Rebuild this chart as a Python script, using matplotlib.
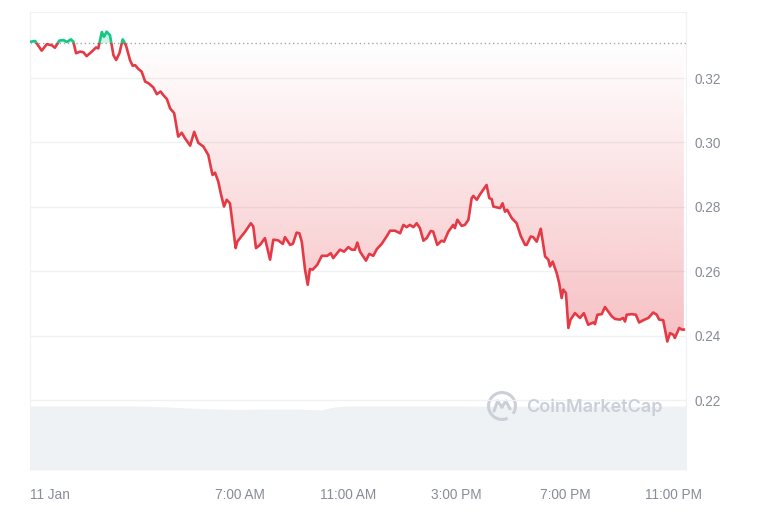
import numpy as np
import matplotlib
matplotlib.use('Agg')
import matplotlib.pyplot as plt
from matplotlib.patches import Rectangle, Arc
from matplotlib.path import Path
from matplotlib.colors import to_rgb

# hours since 11 Jan 00:00, price in USD
hours = [-0.70, -0.55, -0.31, -0.12, 0.06, 0.18, 0.34, 0.49, 0.62, 0.77,
         0.86, 0.96, 1.11, 1.23, 1.35, 1.54, 1.70, 1.78, 1.91, 1.99,
         2.09, 2.21, 2.34, 2.44, 2.56, 2.68, 2.80, 2.95, 3.05, 3.14,
         3.26, 3.38, 3.51, 3.63, 3.81, 3.94, 4.08, 4.18, 4.31, 4.43,
         4.58, 4.73, 4.86, 4.98, 5.17, 5.32, 5.47, 5.66, 5.84, 5.97,
         6.00, 6.09, 6.21, 6.30, 6.42, 6.52, 6.64, 6.85, 6.91, 7.20,
         7.41, 7.50, 7.60, 7.75, 7.93, 8.12, 8.24, 8.42, 8.59, 8.67,
         8.86, 8.96, 9.10, 9.20, 9.29, 9.41, 9.51, 9.59, 9.69, 9.86,
         10.03, 10.23, 10.36, 10.45, 10.70, 10.85, 11.01, 11.13, 11.25, 11.34,
         11.44, 11.56, 11.66, 11.78, 11.93, 12.06, 12.24, 12.42, 12.55, 12.73,
         12.92, 13.04, 13.16, 13.28, 13.41, 13.53, 13.65, 13.78, 13.90, 14.05,
         14.14, 14.29, 14.45, 14.54, 14.70, 14.88, 14.94, 15.03, 15.19, 15.31,
         15.44, 15.56, 15.62, 15.75, 15.87, 16.11, 16.21, 16.30, 16.36, 16.61,
         16.70, 16.79, 16.87, 17.04, 17.22, 17.37, 17.53, 17.59, 17.74, 17.83,
         17.96, 18.11, 18.27, 18.39, 18.45, 18.55, 18.70, 18.79, 18.88, 18.94,
         19.04, 19.13, 19.21, 19.37, 19.56, 19.70, 19.86, 20.05, 20.11, 20.20,
         20.36, 20.48, 20.60, 20.73, 20.85, 21.03, 21.15, 21.22, 21.28, 21.46,
         21.62, 21.74, 21.89, 22.08, 22.26, 22.39, 22.48, 22.63, 22.78, 22.88,
         23.00, 23.06, 23.22, 23.31, 23.39]
price = [0.3313, 0.3315, 0.3285, 0.3305, 0.3302, 0.3294, 0.3316, 0.3318, 0.3312, 0.3320,
         0.3313, 0.3277, 0.3282, 0.3280, 0.3268, 0.3282, 0.3295, 0.3292, 0.3343, 0.3328,
         0.3344, 0.3333, 0.3271, 0.3256, 0.3277, 0.3320, 0.3302, 0.3256, 0.3238, 0.3240,
         0.3228, 0.3220, 0.3189, 0.3184, 0.3171, 0.3150, 0.3158, 0.3147, 0.3135, 0.3106,
         0.3091, 0.3018, 0.3030, 0.3013, 0.2990, 0.3033, 0.2999, 0.2987, 0.2961, 0.2909,
         0.2899, 0.2906, 0.2878, 0.2842, 0.2801, 0.2822, 0.2811, 0.2672, 0.2692, 0.2723,
         0.2749, 0.2739, 0.2672, 0.2682, 0.2703, 0.2636, 0.2698, 0.2696, 0.2685, 0.2706,
         0.2682, 0.2685, 0.2720, 0.2718, 0.2692, 0.2605, 0.2558, 0.2607, 0.2605, 0.2620,
         0.2648, 0.2648, 0.2656, 0.2641, 0.2667, 0.2661, 0.2675, 0.2667, 0.2667, 0.2689,
         0.2661, 0.2646, 0.2633, 0.2654, 0.2648, 0.2669, 0.2685, 0.2708, 0.2726, 0.2726,
         0.2718, 0.2744, 0.2737, 0.2744, 0.2737, 0.2749, 0.2734, 0.2695, 0.2703, 0.2725,
         0.2723, 0.2682, 0.2695, 0.2692, 0.2723, 0.2744, 0.2734, 0.2760, 0.2741, 0.2744,
         0.2760, 0.2827, 0.2834, 0.2822, 0.2839, 0.2868, 0.2827, 0.2824, 0.2801, 0.2796,
         0.2811, 0.2785, 0.2791, 0.2765, 0.2749, 0.2710, 0.2682, 0.2682, 0.2708, 0.2706,
         0.2692, 0.2732, 0.2646, 0.2636, 0.2615, 0.2630, 0.2594, 0.2563, 0.2517, 0.2543,
         0.2532, 0.2424, 0.2450, 0.2470, 0.2455, 0.2470, 0.2434, 0.2441, 0.2436, 0.2465,
         0.2467, 0.2489, 0.2475, 0.2460, 0.2452, 0.2450, 0.2455, 0.2444, 0.2465, 0.2467,
         0.2465, 0.2441, 0.2448, 0.2455, 0.2472, 0.2465, 0.2450, 0.2448, 0.2382, 0.2408,
         0.2403, 0.2393, 0.2424, 0.2419, 0.2419]
open_price = 0.3309

vol_hours = [-0.74, 1, 3, 4.3, 5, 6, 7, 8, 9, 10, 10.5, 11, 13, 15, 17, 19, 21, 23.47]
volume = [6.4, 6.4, 6.4, 6.3, 6.2, 6.1, 6.05, 6.1, 6.1, 6.0, 6.3, 6.4, 6.4, 6.4, 6.35, 6.4, 6.35, 6.4]

x_ticks = [0, 7, 11, 15, 19, 23]
x_labels = ['11 Jan', '7:00 AM', '11:00 AM', '3:00 PM', '7:00 PM', '11:00 PM']
y_ticks = [0.22, 0.24, 0.26, 0.28, 0.30, 0.32]

RED = '#e53a45'
GREEN = '#16c784'
GREY = '#878c98'
MARK = '#cbcfd8'
plt.rcParams['font.family'] = ['Liberation Sans', 'DejaVu Sans']

x0, x1 = -0.74, 23.47
y0, y1 = 0.1983, 0.3405
hours = np.array(hours)
price = np.array(price)

fig = plt.figure(figsize=(7.68, 5.12), dpi=100)
ax = fig.add_axes([30 / 768, 42 / 512, 656 / 768, 458 / 512])
ax_v = ax.twinx()

# volume band at the bottom
ax_v.fill_between(vol_hours, volume, color='#eff2f5', lw=0)
ax_v.set_ylim(0, max(volume) / 0.14)
ax_v.set_yticks([])
for s in ax_v.spines.values():
    s.set_visible(False)

ax.set_zorder(ax_v.get_zorder() + 1)
ax.patch.set_visible(False)
ax.set_xlim(x0, x1)
ax.set_ylim(y0, y1)

# red gradient fill below open
below = ax.fill_between(hours, price, open_price, where=price <= open_price,
                        interpolate=True, color='none', lw=0)
rgba = np.zeros((256, 1, 4))
rgba[..., :3] = to_rgb(RED)
rgba[..., 3] = np.linspace(0.32, 0.0, 256).reshape(-1, 1)
im = ax.imshow(rgba, extent=(x0, x1, price.min(), open_price), origin='lower',
               aspect='auto', zorder=1)
im.set_clip_path(Path.make_compound_path(*below.get_paths()), transform=ax.transData)

ax.fill_between(hours, price, open_price, where=price >= open_price,
                interpolate=True, color=GREEN, alpha=0.2, lw=0, zorder=1)

ax.axhline(open_price, color='#a0a6b2', ls=(0, (1, 2)), lw=1, zorder=2)

red_line, = ax.plot(hours, price, color=RED, lw=1.9, zorder=3, solid_joinstyle='round')
red_line.set_clip_path(Rectangle((x0, y0), x1 - x0, open_price - y0, transform=ax.transData))
green_line, = ax.plot(hours, price, color=GREEN, lw=1.9, zorder=3, solid_joinstyle='round')
green_line.set_clip_path(Rectangle((x0, open_price), x1 - x0, y1 - open_price, transform=ax.transData))

ax.set_yticks(y_ticks)
ax.set_yticklabels(['%.2f' % v for v in y_ticks])
ax.yaxis.tick_right()
ax.set_xticks(x_ticks)
ax.set_xticklabels(x_labels)
ax.tick_params(axis='y', length=0, pad=6, labelcolor=GREY, labelsize=9.8)
ax.tick_params(axis='x', length=0, pad=13, labelcolor=GREY, labelsize=9.8)
ax.grid(axis='y', color='#eff1f4', lw=1, zorder=0)
ax.set_axisbelow(True)
for side in ['top', 'left', 'right']:
    ax.spines[side].set_color('#eff1f4')
ax.spines['bottom'].set_visible(False)

# watermark
fig.text(526 / 768, 1 - 407 / 512, 'CoinMarketCap', ha='left', va='center',
         fontsize=13, fontweight='semibold', color=MARK, family=['Inter', 'DejaVu Sans'])
lax = fig.add_axes([(502 - 16) / 768, (512 - 406 - 16) / 512, 32 / 768, 32 / 512])
lax.set_xlim(-1.1, 1.1)
lax.set_ylim(-1.1, 1.1)
lax.axis('off')
lax.add_patch(Arc((0, 0), 1.85, 1.85, theta1=-35, theta2=295, color=MARK, lw=2.2))
lax.plot([-0.55, -0.3, 0.0, 0.25, 0.55], [-0.35, 0.35, -0.1, 0.35, -0.2], color=MARK, lw=2.2,
         solid_capstyle='round', solid_joinstyle='round')

fig.savefig('out.png', dpi=100)
